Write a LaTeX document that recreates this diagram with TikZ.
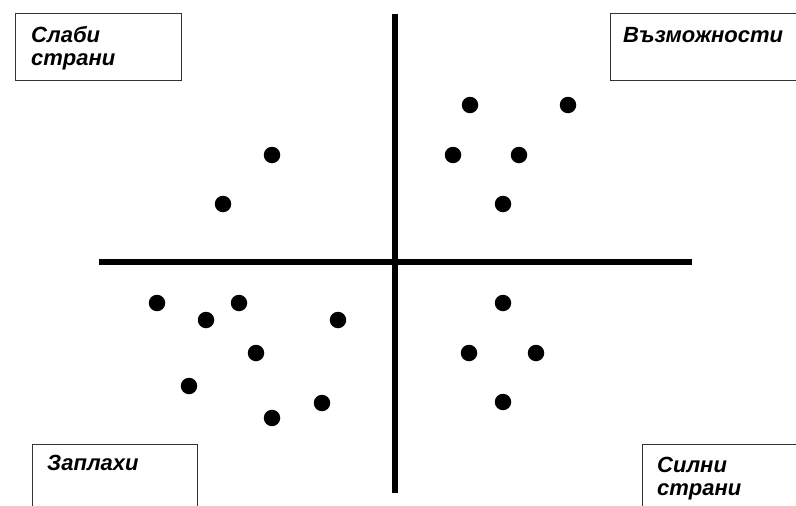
\documentclass[tikz,border=0pt]{standalone}
\usepackage{fontspec}
\setmainfont{Liberation Sans}
\usetikzlibrary{positioning}
\tikzset{
    quadbox/.style={draw=black!80, line width=1.3pt, anchor=north west, inner sep=0pt},
    quadlabel/.style={font=\fontsize{22}{23}\selectfont\bfseries\itshape, anchor=base west, align=left, inner sep=0pt},
    dot/.style={circle, fill=black, inner sep=0pt, minimum size=16.5pt},
    axis/.style={line width=5.5pt}
}

\begin{document}
\begin{tikzpicture}[x=1pt,y=-1pt]
    \useasboundingbox (0,0) rectangle (796,506);

    % corner boxes
    \node[quadbox, minimum width=166pt, minimum height=67pt] (slabibox) at (15,13) {};
    \node[quadbox, minimum width=220pt, minimum height=67pt] (vazmbox) at (610,13) {};
    \node[quadbox, minimum width=165pt, minimum height=90pt] (zaplbox) at (32,444) {};
    \node[quadbox, minimum width=190pt, minimum height=90pt] (silnibox) at (642,444) {};

    % labels (base = baseline of the last line)
    \node[quadlabel] (slabi) at ([xshift=16pt, yshift=-52pt]slabibox.north west) {Слаби\\страни};
    \node[quadlabel] (vazm) at ([xshift=13pt, yshift=-29pt]vazmbox.north west) {Възможности};
    \node[quadlabel] (zapl) at ([xshift=15pt, yshift=-26pt]zaplbox.north west) {Заплахи};
    \node[quadlabel] (silni) at ([xshift=15pt, yshift=-51pt]silnibox.north west) {Силни\\страни};

    % axes
    \coordinate (vtop) at (395,14);
    \coordinate (vbot) at (395,493);
    \coordinate (hleft) at (99,262);
    \coordinate (hright) at (692,262);
    \draw[axis] (vtop) -- (vbot);
    \draw[axis] (hleft) -- (hright);

    % points
    \foreach \px/\py [count=\i] in {470/105, 568/105, 453/155, 519/155, 503/204,
                                     272/155, 223/204,
                                     157/303, 206/320, 239/303, 338/320, 256/353, 189/386, 322/403, 272/418,
                                     503/303, 469/353, 536/353, 503/402}
        \node[dot] (d\i) at (\px,\py) {};
\end{tikzpicture}
\end{document}
